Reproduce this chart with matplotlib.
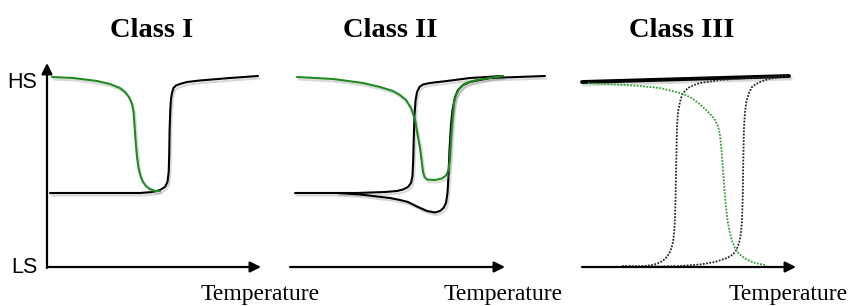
import matplotlib
matplotlib.use("Agg")
import matplotlib.pyplot as plt
import matplotlib.patheffects as pe

# ---- data (figure pixel coordinates; y grows downward) ----
titles = ["Class I", "Class II", "Class III"]
title_x = [152, 390, 682]
xlabel_text = "Temperature"
xlabel_x = [260, 503, 788]
ylabels = ["HS", "LS"]

# Class I
c1_black_x = [50, 90, 120, 140, 153, 160, 165, 167.5, 168.7, 169.2, 169.6, 170.3, 171, 172, 173.5, 176, 180, 187, 200, 230, 258]
c1_black_y = [193, 193, 193, 193, 192, 190, 187, 182, 172, 155, 130, 110, 99, 93, 88, 85.5, 84, 82, 80.5, 78, 76]
c1_green_x = [52, 73, 97, 110, 120, 125, 129, 132, 133.5, 134.5, 135.5, 137, 138.5, 140.5, 143, 146, 150, 155, 160]
c1_green_y = [77, 78, 81, 84, 88, 92, 97, 104, 112, 125, 140, 157, 168, 176, 182, 186, 189, 191, 191]

# Class II
c2_black1_x = [295, 357, 385, 397, 403, 408, 411, 412.5, 413.2, 413.8, 414.5, 415.5, 417, 419.5, 423, 430, 447, 470, 503]
c2_black1_y = [193, 193, 192, 191, 189.5, 187, 183, 176, 160, 137, 115, 101, 92, 87, 84.5, 83, 81, 78, 76]
c2_black2_x = [337, 360, 377, 390, 400, 408, 418, 427, 435, 440, 443.5, 446, 447.5, 448.5, 449.5, 451, 452.5, 455, 458, 463, 470, 490, 545]
c2_black2_y = [193, 194.5, 196.5, 198, 200, 202, 207, 211, 212.5, 211, 208, 203, 193, 175, 150, 125, 110, 97, 90, 85, 82, 78, 76]
c2_green_x = [297, 333, 363, 380, 393, 400, 406, 411, 415, 418, 420, 421.5, 423, 424.5, 427, 435, 442, 446, 448.5, 449.8, 451, 452.5, 454, 456, 459, 465, 477, 490, 503]
c2_green_y = [77, 79, 83, 87, 91, 95, 100, 108, 120, 137, 148, 160, 172, 177, 179.5, 180, 178.5, 175.5, 170, 160, 140, 120, 103, 95, 89, 83.5, 80, 78, 76]

# Class III
c3_top_x = [582, 789]
c3_top_y = [82, 76]
c3_green_x = [588, 625, 640, 660, 680, 690, 697, 703, 708, 712, 715, 718, 720, 721.5, 723, 724.5, 726, 727.5, 729.5, 732, 735, 739, 745, 750, 755, 765]
c3_green_y = [83, 85, 86, 88, 93, 97, 102, 107, 112, 116, 120, 126, 135, 150, 170, 190, 207, 220, 231, 241, 248, 254, 258.5, 261, 263, 265]
c3_black1_x = [622, 640, 653, 660, 665, 669, 671.5, 673, 674.2, 675, 675.6, 676.3, 677, 678, 680, 682, 685, 688, 694, 700, 710, 720, 750, 788]
c3_black1_y = [266, 266.5, 265, 262.5, 259, 254, 248, 242, 232, 218, 195, 160, 127, 112, 102, 95, 91, 88, 85, 83, 81.5, 80, 78, 76]
c3_black2_x = [625, 660, 680, 700, 715, 727, 733, 736.5, 739, 740.8, 742, 742.8, 743.3, 744, 745, 746.5, 749, 752, 756, 760, 768, 788]
c3_black2_y = [266.5, 266.5, 266, 264.5, 262, 258, 254.5, 250, 243, 234, 220, 195, 160, 127, 112, 101, 93, 87, 84, 82, 79, 76]

# axes arrows: (x_start, y_start, x_tip, y_tip)
x_axis_arrows = [(47, 267, 261, 267), (290, 267, 505, 267), (582, 267, 796, 267)]
y_axis_arrow = (47, 268, 47, 63)

GREEN = "#1f8a1f"

fig = plt.figure(figsize=(8.53, 3.06), dpi=100)
ax = fig.add_axes([0, 0, 1, 1])
ax.set_xlim(0, 853)
ax.set_ylim(306, 0)
ax.axis("off")

shadow = [pe.SimpleLineShadow(offset=(1.2, -1.8), shadow_color="0.5", alpha=0.3),
          pe.Normal()]

def solid(x, y, color, lw=1.5):
    ax.plot(x, y, color=color, lw=lw, solid_capstyle="round",
            solid_joinstyle="round", path_effects=shadow)

def dotted(x, y, color, lw=1.3):
    ax.plot(x, y, color=color, lw=lw, linestyle=(0, (1, 0.8)))

solid(c1_black_x, c1_black_y, "black")
solid(c1_green_x, c1_green_y, GREEN)

solid(c2_black1_x, c2_black1_y, "black")
solid(c2_black2_x, c2_black2_y, "black")
solid(c2_green_x, c2_green_y, GREEN)

solid(c3_top_x, c3_top_y, "black", lw=2.8)
dotted(c3_black1_x, c3_black1_y, "0.15")
dotted(c3_black2_x, c3_black2_y, "0.15")
dotted(c3_green_x, c3_green_y, "#2ea02e")

arrow_props = dict(arrowstyle="-|>", mutation_scale=16, lw=1.6, color="black",
                   shrinkA=0, shrinkB=0)
for (x0, y0, x1, y1) in x_axis_arrows:
    ax.annotate("", xy=(x1, y1), xytext=(x0, y0), arrowprops=arrow_props)
x0, y0, x1, y1 = y_axis_arrow
ax.annotate("", xy=(x1, y1), xytext=(x0, y0), arrowprops=arrow_props)

for t, x in zip(titles, title_x):
    ax.text(x, 37, t, ha="center", va="baseline", fontsize=20.5,
            fontweight="bold", family="Liberation Serif")
for x in xlabel_x:
    ax.text(x, 300, xlabel_text, ha="center", va="baseline", fontsize=17,
            family="Liberation Serif")
ax.text(22, 88, ylabels[0], ha="center", va="baseline", fontsize=15.5,
        family="Liberation Sans")
ax.text(24, 273, ylabels[1], ha="center", va="baseline", fontsize=15.5,
        family="Liberation Sans")

fig.savefig("out.png", dpi=100)
